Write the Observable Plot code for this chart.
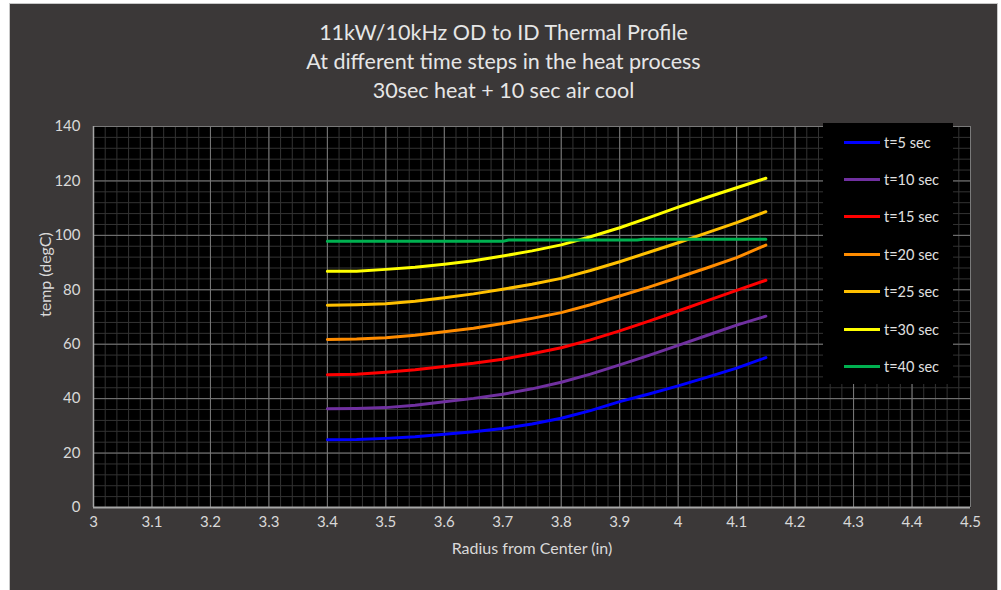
<!DOCTYPE html>
<html>
<head>
<meta charset="utf-8">
<script src="https://cdn.jsdelivr.net/npm/d3@7"></script>
<script src="https://cdn.jsdelivr.net/npm/@observablehq/plot@0.6"></script>
<style>
  html, body { margin: 0; padding: 0; background: #ffffff; }
  #root { position: relative; width: 1001px; height: 590px; overflow: hidden; font-family: Lato, "Open Sans", sans-serif; }
  #panel { position: absolute; left: 9px; top: 3px; width: 989px; height: 590px; background: #3b3838; box-sizing: border-box; border-left: 1px solid #c8c8c8; border-top: 1px solid #c8c8c8; border-right: 1px solid #c8c8c8; }
  #chart { position: absolute; left: 0; top: 0; }
  #title { position: absolute; left: 9px; width: 989px; top: 18px; text-align: center; color: #e6e6e6; font-size: 21.5px; line-height: 29px; }
  #legend { position: absolute; left: 823px; top: 123px; width: 130px; height: 261px; background: #000; }
  .item { position: absolute; left: 0; height: 20px; display: flex; align-items: center; color: #e0e0e0; font-size: 14.5px; }
  .sw { width: 36px; height: 3px; margin-left: 21px; margin-right: 4px; }
</style>
</head>
<body>
<div id="root">
  <div id="panel"></div>
  <div id="chart"></div>
  <div id="title">11kW/10kHz OD to ID Thermal Profile<br>At different time steps in the heat process<br>30sec heat + 10 sec air cool</div>
  <div id="legend"></div>
</div>
<script>
// ---- data ----
const radius = [3.4, 3.45, 3.5, 3.55, 3.6, 3.65, 3.7, 3.75, 3.8, 3.85, 3.9, 3.95, 4.0, 4.05, 4.1, 4.15];
const t5  = [24.9, 25.0, 25.4, 26.0, 26.9, 27.8, 29.0, 30.7, 32.8, 35.6, 38.9, 41.7, 44.7, 47.9, 51.2, 55.1];
const t10 = [36.3, 36.4, 36.7, 37.6, 38.9, 40.1, 41.6, 43.6, 46.0, 49.0, 52.4, 55.9, 59.6, 63.3, 67.0, 70.3];
const t15 = [48.8, 49.0, 49.7, 50.6, 51.8, 53.0, 54.5, 56.5, 58.7, 61.6, 64.9, 68.5, 72.2, 76.0, 79.8, 83.5];
const t20 = [61.7, 61.9, 62.4, 63.3, 64.6, 65.9, 67.6, 69.5, 71.6, 74.5, 77.7, 81.0, 84.5, 88.1, 91.8, 96.4];
const t25 = [74.3, 74.5, 74.9, 75.8, 77.1, 78.5, 80.2, 82.0, 84.2, 87.1, 90.3, 93.8, 97.3, 101.0, 104.7, 108.7];
const t30 = [86.8, 86.8, 87.5, 88.3, 89.4, 90.7, 92.4, 94.3, 96.5, 99.5, 102.8, 106.5, 110.4, 114.0, 117.5, 121.0];
const t40Radius = [3.4, 3.7, 3.71, 3.93, 3.94, 4.15];
const t40 = [97.8, 97.8, 98.3, 98.3, 98.6, 98.6];

const seriesNames = ["t=5 sec", "t=10 sec", "t=15 sec", "t=20 sec", "t=25 sec", "t=30 sec", "t=40 sec"];
const seriesColors = ["#0000ff", "#7030a0", "#ff0000", "#ff8c00", "#ffc000", "#ffff00", "#00b050"];
const xTicks = [3, 3.1, 3.2, 3.3, 3.4, 3.5, 3.6, 3.7, 3.8, 3.9, 4, 4.1, 4.2, 4.3, 4.4, 4.5];
const yTicks = [0, 20, 40, 60, 80, 100, 120, 140];
const xMinor = d3.range(0, 76).map(i => 3 + i * 0.02);
const yMinor = d3.range(0, 36).map(i => i * 4);

const data = [];
[t5, t10, t15, t20, t25, t30].forEach((arr, k) => {
  arr.forEach((v, i) => data.push({ r: radius[i], temp: v, s: seriesNames[k] }));
});
t40.forEach((v, i) => data.push({ r: t40Radius[i], temp: v, s: seriesNames[6] }));

const chart = Plot.plot({
  width: 1001,
  height: 590,
  marginLeft: 93,
  marginTop: 126,
  marginRight: 31,
  marginBottom: 83,
  style: { background: "transparent", fontFamily: "Lato, 'Open Sans', sans-serif", color: "#d9d9d9" },
  x: { domain: [3, 4.5] },
  y: { domain: [0, 140] },
  color: { domain: seriesNames, range: seriesColors },
  marks: [
    Plot.frame({ fill: "#000000" }),
    Plot.gridX(xMinor, { stroke: "#333333", strokeOpacity: 1, strokeWidth: 1 }),
    Plot.gridY(yMinor, { stroke: "#333333", strokeOpacity: 1, strokeWidth: 1 }),
    Plot.gridX(xTicks, { stroke: "#7a7a7a", strokeOpacity: 1, strokeWidth: 1 }),
    Plot.gridY(yTicks, { stroke: "#7a7a7a", strokeOpacity: 1, strokeWidth: 1 }),
    Plot.axisX(xTicks, { tickSize: 0, tickPadding: 9, fontSize: 15, fill: "#d9d9d9", label: null, tickFormat: d => String(Math.round(d * 10) / 10) }),
    Plot.axisY(yTicks, { tickSize: 0, tickPadding: 13, fontSize: 15, fill: "#d9d9d9", label: null }),
    Plot.ruleX([3], { stroke: "#a6a6a6", strokeWidth: 1.5 }),
    Plot.ruleY([0], { stroke: "#a6a6a6", strokeWidth: 2 }),
    Plot.line(data, { x: "r", y: "temp", z: "s", stroke: "s", strokeWidth: 3, curve: "linear" }),
    Plot.text(["Radius from Center (in)"], { frameAnchor: "bottom", dy: 46, fontSize: 16, fill: "#d9d9d9" }),
    Plot.text(["temp (degC)"], { frameAnchor: "left", dx: -48, rotate: -90, fontSize: 16, fill: "#d9d9d9" })
  ]
});
document.getElementById("chart").appendChild(chart);

// legend
const legend = document.getElementById("legend");
seriesNames.forEach((name, i) => {
  const it = document.createElement("div");
  it.className = "item";
  it.style.top = (9 + i * 37.4) + "px";
  const sw = document.createElement("div");
  sw.className = "sw";
  sw.style.background = seriesColors[i];
  const tx = document.createElement("span");
  tx.textContent = name;
  it.appendChild(sw);
  it.appendChild(tx);
  legend.appendChild(it);
});
</script>
</body>
</html>
